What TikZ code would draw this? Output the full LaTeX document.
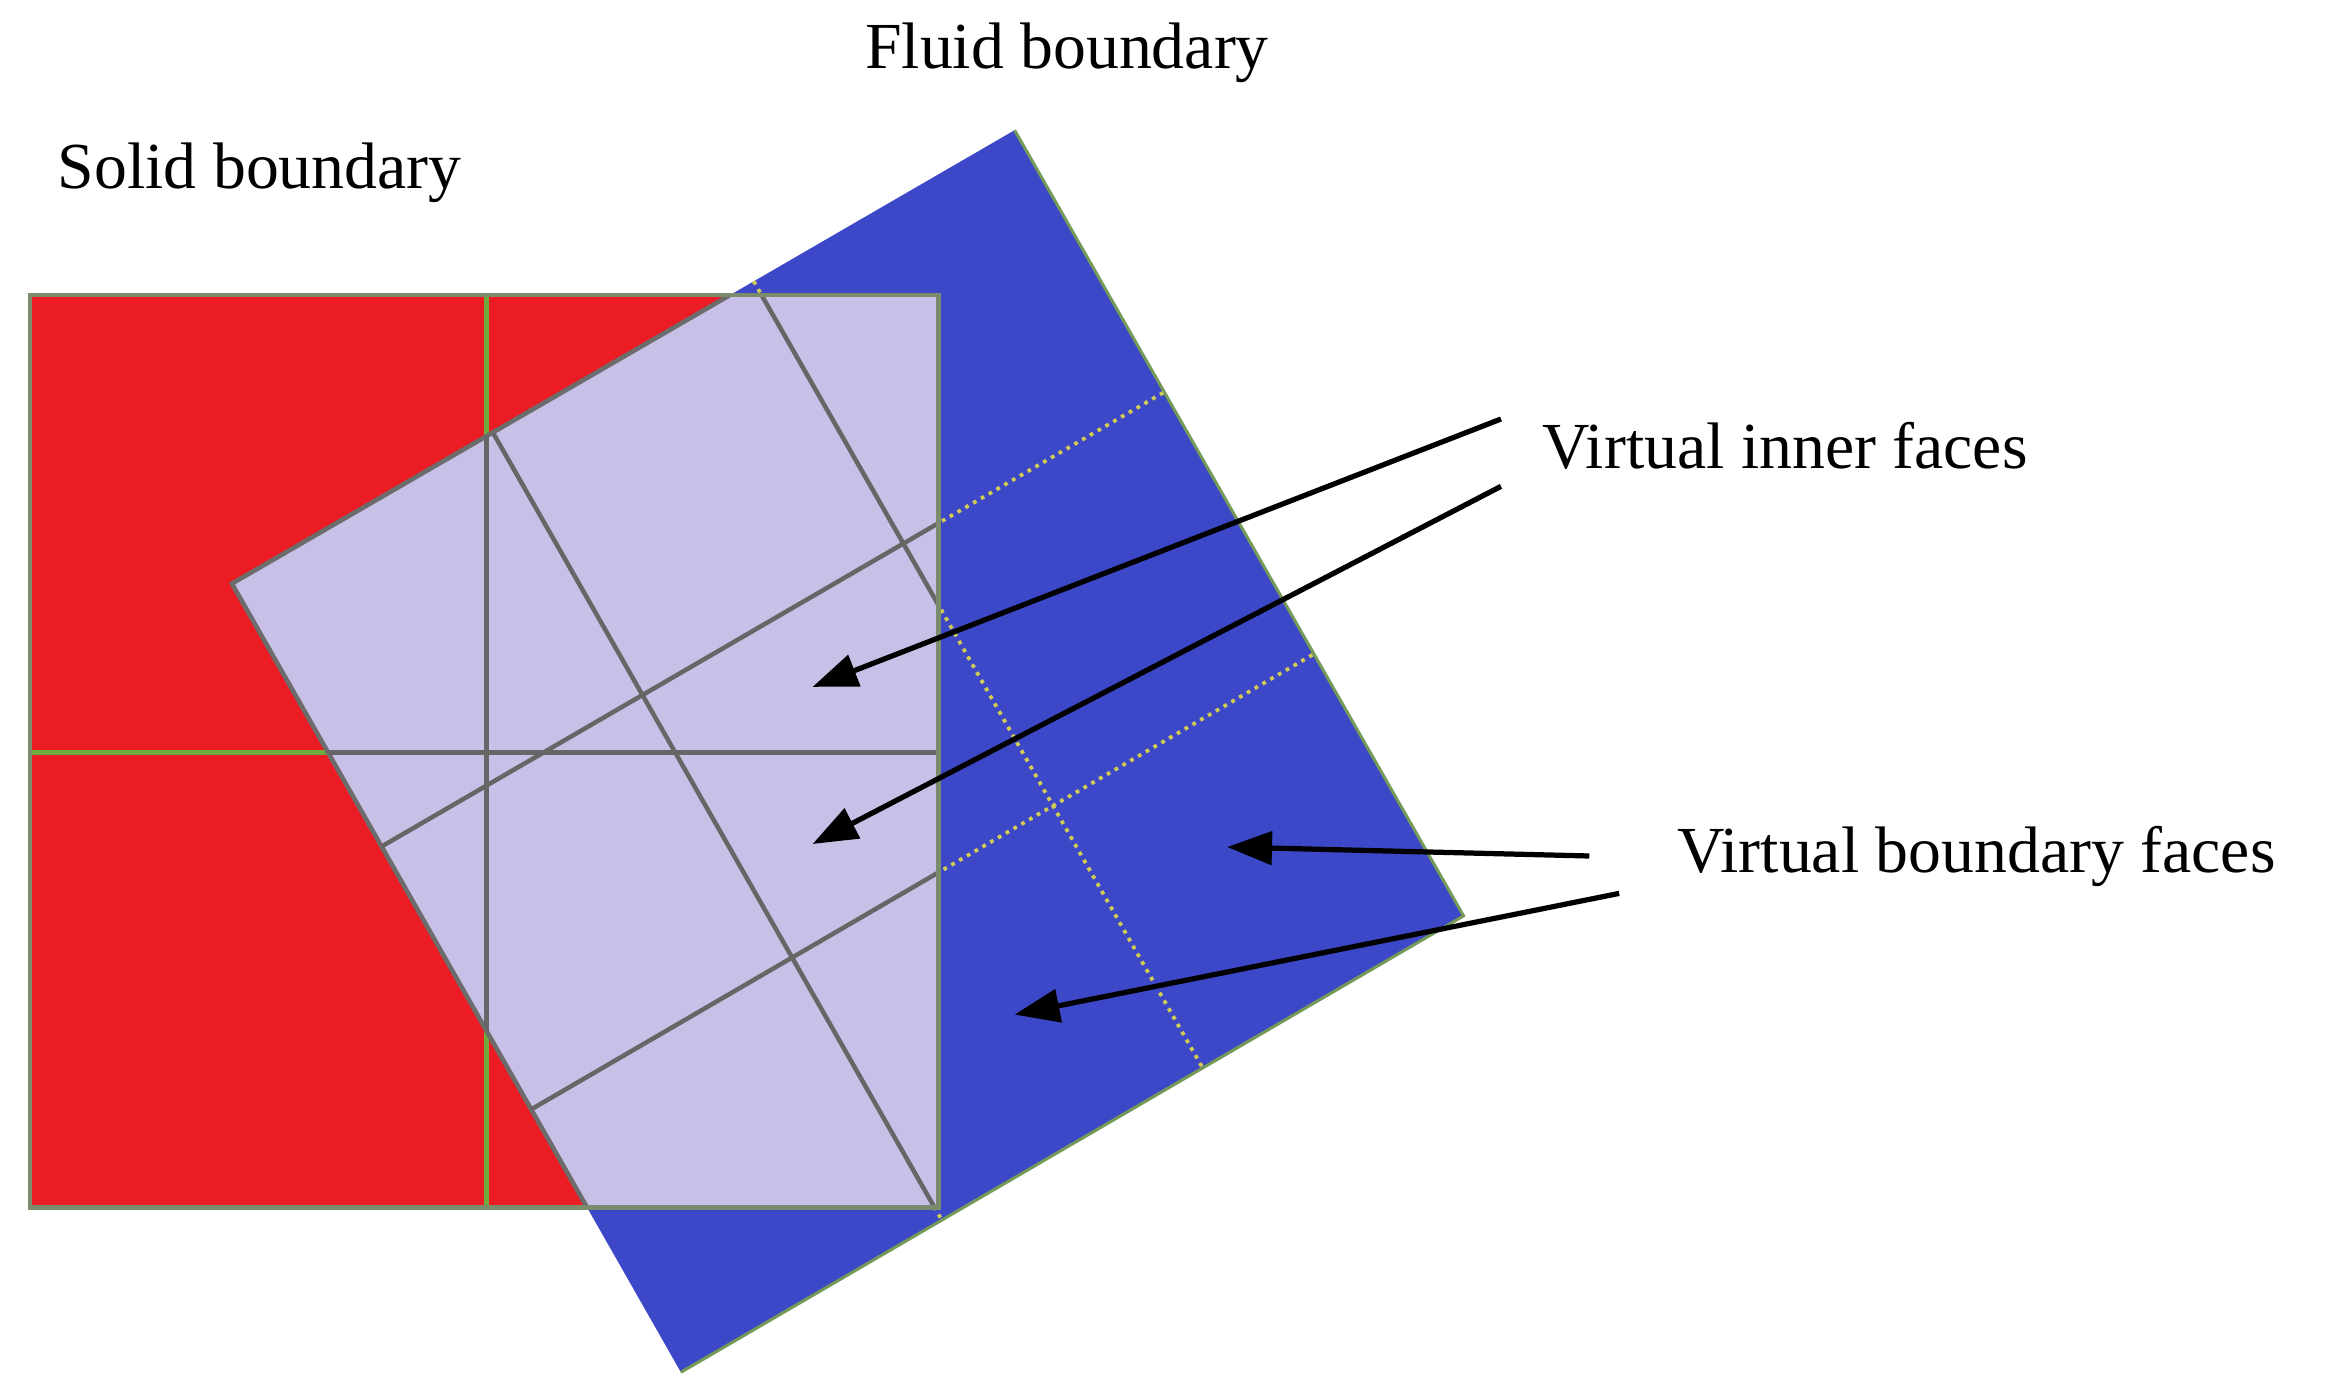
\documentclass[tikz,border=0pt]{standalone}
\usepackage{fontspec}
\setmainfont{Liberation Serif}
\usetikzlibrary{arrows.meta,calc}
\begin{document}
\begin{tikzpicture}[x=0.1mm,y=-0.1mm,
  lbl/.style={font=\fontsize{12.5}{15}\selectfont, inner sep=0pt},
  arr/.style={black, line width=0.35mm, -{Triangle[length=3mm,width=2.2mm]}}]
\useasboundingbox (0,0) rectangle (1565,929);
\definecolor{rd}{RGB}{236,28,36}
\definecolor{bl}{RGB}{60,72,200}
\definecolor{lv}{RGB}{200,192,230}
\definecolor{gr}{RGB}{110,170,60}
\coordinate (T) at (678,87); \coordinate (R) at (978,612);
\coordinate (B) at (455,917); \coordinate (L) at (155,390);
% red square
\fill[rd] (20,197) rectangle (627,807);
\draw[gr, line width=0.3mm] (325,197) -- (325,807) (20,503) -- (627,503);
% blue rotated square
\fill[bl] (T) -- (R) -- (B) -- (L) -- cycle;
\draw[gr!60!gray, line width=0.2mm] (T) -- (R) -- (B);
% grid on blue
\draw[yellow!60!gray, line width=0.25mm, densely dotted]
  ($(L)!1/3!(B)$) -- ($(T)!1/3!(R)$)
  ($(L)!2/3!(B)$) -- ($(T)!2/3!(R)$)
  ($(L)!1/3!(T)$) -- ($(B)!1/3!(R)$)
  ($(L)!2/3!(T)$) -- ($(B)!2/3!(R)$);
% lavender intersection
\begin{scope}
  \clip (20,197) rectangle (627,807);
  \fill[lv] (T) -- (R) -- (B) -- (L) -- cycle;
  \draw[gray!85!black, line width=0.3mm] (T) -- (R) -- (B) -- (L) -- cycle;
  \draw[gray!80!black, line width=0.3mm]
    ($(L)!1/3!(B)$) -- ($(T)!1/3!(R)$)
    ($(L)!2/3!(B)$) -- ($(T)!2/3!(R)$)
    ($(L)!1/3!(T)$) -- ($(B)!1/3!(R)$)
    ($(L)!2/3!(T)$) -- ($(B)!2/3!(R)$);
  \begin{scope}
    \clip (T) -- (R) -- (B) -- (L) -- cycle;
    \draw[gray!80!black, line width=0.3mm] (325,197) -- (325,807) (20,503) -- (627,503);
  \end{scope}
\end{scope}
\draw[gray!70!gr, line width=0.3mm] (20,197) rectangle (627,807);
% labels
\node[lbl, anchor=base] (fb) at (713,46) {Fluid boundary};
\node[lbl, anchor=base west] (sb) at (38,126) {Solid boundary};
\node[lbl, anchor=base west] (vi) at (1030,313) {Virtual inner faces};
\node[lbl, anchor=base west] (vb) at (1120,583) {Virtual boundary faces};
\coordinate (a1) at (1003,280); \coordinate (a2) at (1003,325);
\coordinate (a3) at (1062,572); \coordinate (a4) at (1082,597);
\coordinate (t1) at (543,459); \coordinate (t2) at (543,564);
\coordinate (t3) at (820,566); \coordinate (t4) at (678,678);
\draw[arr] (a1) -- (t1);
\draw[arr] (a2) -- (t2);
\draw[arr] (a3) -- (t3);
\draw[arr] (a4) -- (t4);
\end{tikzpicture}
\end{document}
